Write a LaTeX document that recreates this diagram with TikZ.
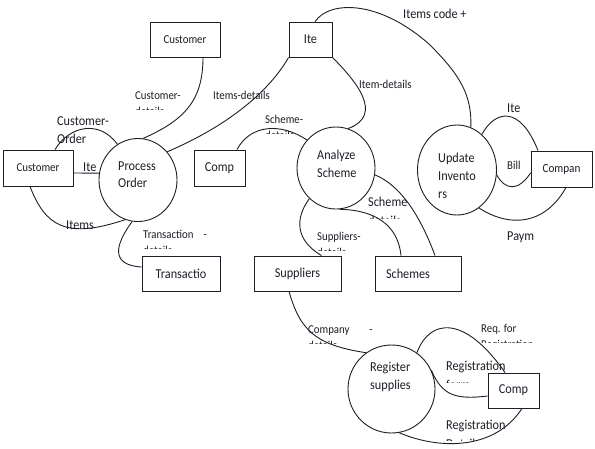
\documentclass[tikz,border=0pt]{standalone}
\usepackage{fontspec}
\setmainfont[FakeStretch=0.9]{Carlito}
\usetikzlibrary{shapes.geometric}
\newcommand\sfs{\fontsize{12}{16}\selectfont}
\newcommand\bfs{\fontsize{13.6}{18}\selectfont}
\definecolor{ink}{RGB}{30,30,40}
\tikzset{
 box/.style={draw=ink, line width=0.9pt, rectangle, inner sep=0pt, font=\bfs, text=ink},
 proc/.style={draw=ink, line width=0.9pt, ellipse, inner sep=0pt},
 flow/.style={draw=ink, line width=0.9pt},
 lbl/.style={inner sep=0pt, anchor=base west, text=ink},
}
% cut label second line: name, x, first baseline, gap, clip offset, text
\newcommand\cutl[6]{%
 \begin{scope}
 \clip (#2-3,#3+4) rectangle (#2+95,#3+#5);
 \node[lbl] (#1) at (#2,#3+#4) {#6};
 \end{scope}}
\begin{document}
\begin{tikzpicture}[x=1pt,y=-1pt]
\useasboundingbox (0,0) rectangle (595,448);
\fill[white] (0,0) rectangle (595,448);

% boxes
\node[box, minimum width=70pt, minimum height=35pt, font=\fontsize{12.1}{14}\selectfont] (ct) at (185,39.5) {Customer};
\node[box, minimum width=70pt, minimum height=36pt, font=\fontsize{12.1}{14}\selectfont] (cl) at (38,168) {Customer};
\node[box, minimum width=43pt, minimum height=35pt] (it) at (310.5,39.5) {Ite};
\node[box, minimum width=51pt, minimum height=36pt] (cm) at (219.5,168) {Comp};
\node[box, minimum width=61pt, minimum height=36pt, font=\fontsize{12.4}{14}\selectfont] (cp) at (561.5,169) {Compan};
\node[box, minimum width=78pt, minimum height=35pt] (tr) at (181,274) {Transactio};
\node[box, minimum width=87pt, minimum height=35pt] (su) at (297.5,273.5) {Suppliers};
\node[box, minimum width=86pt, minimum height=35pt, text width=64pt, align=left, inner xsep=11pt] (sc) at (418,273.5) {Schemes};
\node[box, minimum width=51pt, minimum height=35pt] (cb) at (513.5,390.5) {Comp};

% processes
\node[proc, minimum width=78pt, minimum height=83pt] (po) at (138,180) {};
\node[proc, minimum width=78pt, minimum height=82pt] (as) at (336,168) {};
\node[proc, minimum width=79pt, minimum height=90pt] (ui) at (457,170) {};
\node[proc, minimum width=87pt, minimum height=88pt] (rs) at (391.5,389) {};

\node[lbl, font=\bfs] (poa) at (118,170) {Process};
\node[lbl, font=\bfs] (pob) at (118,187.5) {Order};
\node[lbl, font=\bfs] (asa) at (317,159.5) {Analyze};
\node[lbl, font=\bfs] (asb) at (317,177) {Scheme};
\node[lbl, font=\bfs] (uia) at (438,162) {Update};
\node[lbl, font=\bfs] (uib) at (438,180) {Invento};
\node[lbl, font=\bfs] (uic) at (438,198) {rs};
\node[lbl, font=\bfs] (rsa) at (370,371.5) {Register};
\node[lbl, font=\bfs] (rsb) at (370,389) {supplies};

% connectors
\draw[flow] ([xshift=18pt]ct.south) .. controls (203,100) and (185,120) .. (po.83);
\draw[flow] (it.south west) .. controls (270,90) and (230,125) .. (po.44);
\draw[flow] (it.south east) .. controls (355,80) and (385,115) .. (as.73);
\draw[flow] ([xshift=4.5pt]it.north) .. controls (330,0) and (380,0) .. (430,45) .. controls (460,75) and (472,95) .. (ui.72);
\draw[flow] ([xshift=17pt]cl.north) .. controls (70,125) and (100,120) .. (po.120);
\draw[flow] ([yshift=-5pt]cl.east) -- (po.170);
\draw[flow] ([xshift=-8pt]cl.south) .. controls (45,225) and (65,240) .. (po.252);
\draw[flow] (po.262) .. controls (115,245) and (110,265) .. ([yshift=7pt]tr.west);
\draw[flow] ([xshift=17.5pt]cm.north) .. controls (250,125) and (280,122) .. (as.136);
\draw[flow] (as.229) .. controls (295,218) and (295,240) .. ([xshift=24pt]su.north);
\draw[flow] (as.275) .. controls (375,210) and (398,225) .. ([xshift=-17pt]sc.north);
\draw[flow] (as.350) .. controls (400,185) and (420,215) .. ([xshift=17pt]sc.north);
\draw[flow] (ui.55) .. controls (495,110) and (520,105) .. ([xshift=-23.5pt]cp.north);
\draw[flow] (ui.353) .. controls (505,190) and (518,192) .. ([yshift=-4pt]cp.west);
\draw[flow] ([xshift=4.5pt]cp.south) .. controls (545,225) and (510,228) .. (ui.300);
\draw[flow] ([xshift=-8.5pt]su.south) .. controls (300,330) and (315,345) .. (rs.125);
\draw[flow] (rs.55) .. controls (430,318) and (465,315) .. ([xshift=-8.5pt]cb.north);
\draw[flow] (rs.25) .. controls (442,395) and (455,400) .. ([yshift=-5.5pt]cb.west);
\draw[flow] (rs.280) .. controls (440,450) and (495,450) .. ([xshift=8.5pt]cb.south);

% labels
\node[lbl, font=\sfs] (l1) at (135,99) {Customer-};
\cutl{l1b}{135}{99}{16}{10}{\sfs details}
\node[lbl, font=\sfs] (l2) at (213,99) {Items-details};
\node[lbl, font=\bfs] (l3) at (57,125) {Customer-};
\node[lbl, font=\bfs] (l3b) at (57,143) {Order};
\node[lbl, font=\bfs] (l4) at (83,171.5) {Ite};
\node[lbl, font=\sfs] (l5) at (265,123) {Scheme-};
\cutl{l5b}{265}{123}{16}{10}{\sfs details}
\node[lbl, font=\bfs] (l6) at (66,229.5) {Items};
\node[lbl, font=\sfs] (l7) at (143,238.5) {Transaction\hspace{10pt}-};
\cutl{l7b}{143}{238.5}{16}{10}{\sfs details}
\node[lbl, font=\sfs] (l8) at (317,240.5) {Suppliers-};
\cutl{l8b}{317}{240.5}{16}{10}{\sfs details}
\node[lbl, font=\bfs] (l9) at (368,206.5) {Scheme};
\cutl{l9b}{368}{206.5}{18.5}{11.5}{\bfs details}
\node[lbl, font=\sfs] (l10) at (359,88) {Item-details};
\node[lbl, font=\bfs] (l11) at (403,18.5) {Items code +};
\cutl{l11b}{403}{18.5}{18.5}{11}{\bfs \hspace{28pt}..}
\node[lbl, font=\bfs] (l12) at (507,112.5) {Ite};
\node[lbl, font=\sfs] (l13) at (507,169.5) {Bill};
\node[lbl, font=\bfs] (l14) at (507,240.5) {Paym};
\cutl{l14b}{507}{240.5}{18.5}{11.5}{\bfs \hspace{6pt}.}
\node[lbl, font=\sfs] (l15) at (308,333) {Company\hspace{20pt}-};
\cutl{l15b}{308}{333}{16}{10}{\sfs details}
\node[lbl, font=\sfs] (l16) at (481,332) {Req. for};
\cutl{l16b}{481}{332}{16}{10}{\sfs Registration}
\node[lbl, font=\bfs] (l17) at (446,370.5) {Registration};
\cutl{l17b}{446}{370.5}{18.5}{11.5}{\bfs form}
\node[lbl, font=\bfs] (l18) at (446,429.5) {Registration};
\cutl{l18b}{446}{429.5}{18.5}{11}{\bfs Details}
\end{tikzpicture}
\end{document}
